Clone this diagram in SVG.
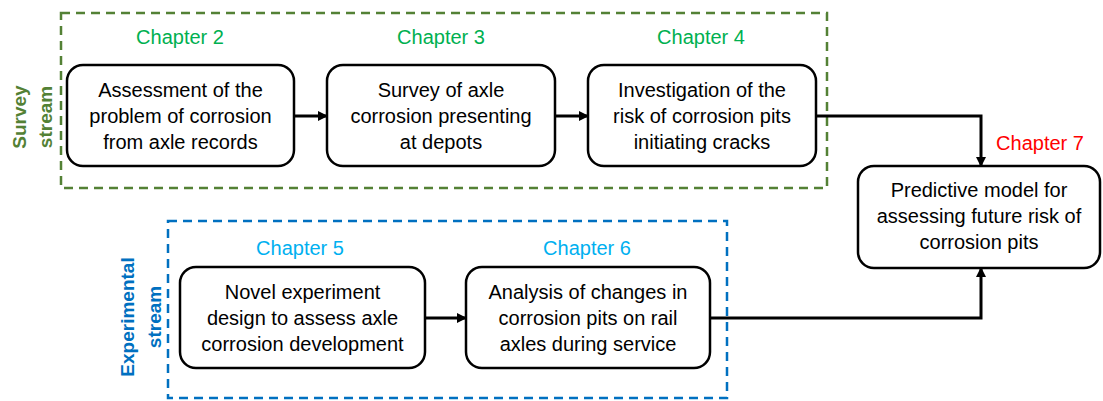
<svg xmlns="http://www.w3.org/2000/svg" width="1103" height="401" viewBox="0 0 1103 401">
  <defs>
    <marker id="arrow" viewBox="0 0 10 10" refX="9" refY="5" markerWidth="10" markerHeight="10" markerUnits="userSpaceOnUse" orient="auto">
      <path d="M0,0 L10,5 L0,10 Z" fill="#000"/>
    </marker>
    <style>
      text { font-family: "Liberation Sans", Arial, sans-serif; }
      .box { fill: #fff; stroke: #000; stroke-width: 2.5; }
      .body { font-size: 20px; fill: #000; text-anchor: middle; }
      .chap { font-size: 20px; text-anchor: middle; }
      .stream { font-size: 19px; font-weight: bold; text-anchor: middle; }
      .frame { fill: none; stroke-width: 2.5; stroke-dasharray: 9 6; }
      .conn { fill: none; stroke: #000; stroke-width: 3; }
    </style>
  </defs>
  <rect width="1103" height="401" fill="#fff"/>

  <!-- stream frames -->
  <g id="survey-stream">
    <rect class="frame" x="61" y="13" width="766" height="175" stroke="#538135"/>
    <text class="stream" fill="#538135" transform="translate(26,117) rotate(-90)">Survey</text>
    <text class="stream" fill="#538135" transform="translate(52,117) rotate(-90)">stream</text>
  </g>
  <g id="experimental-stream">
    <rect class="frame" x="168" y="221" width="559" height="177" stroke="#0070C0"/>
    <text class="stream" fill="#0070C0" transform="translate(134,317) rotate(-90)">Experimental</text>
    <text class="stream" fill="#0070C0" transform="translate(161,317) rotate(-90)">stream</text>
  </g>

  <!-- connectors -->
  <g id="connectors">
    <path class="conn" d="M294,116 H327" marker-end="url(#arrow)"/>
    <path class="conn" d="M555,116 H588" marker-end="url(#arrow)"/>
    <path class="conn" d="M816,116 H981 V166" marker-end="url(#arrow)"/>
    <path class="conn" d="M425,318 H466" marker-end="url(#arrow)"/>
    <path class="conn" d="M710,318 H981 V268" marker-end="url(#arrow)"/>
  </g>

  <!-- chapter nodes -->
  <g id="ch2">
    <text class="chap" x="180" y="44" fill="#00B050">Chapter 2</text>
    <rect class="box" x="67" y="65" width="227" height="101" rx="16"/>
    <text class="body" x="180.5" y="97">Assessment of the</text>
    <text class="body" x="180.5" y="123">problem of corrosion</text>
    <text class="body" x="180.5" y="149">from axle records</text>
  </g>
  <g id="ch3">
    <text class="chap" x="441" y="44" fill="#00B050">Chapter 3</text>
    <rect class="box" x="327" y="65" width="228" height="101" rx="16"/>
    <text class="body" x="441" y="97">Survey of axle</text>
    <text class="body" x="441" y="123">corrosion presenting</text>
    <text class="body" x="441" y="149">at depots</text>
  </g>
  <g id="ch4">
    <text class="chap" x="701" y="44" fill="#00B050">Chapter 4</text>
    <rect class="box" x="588" y="65" width="228" height="101" rx="16"/>
    <text class="body" x="702" y="97">Investigation of the</text>
    <text class="body" x="702" y="123">risk of corrosion pits</text>
    <text class="body" x="702" y="149">initiating cracks</text>
  </g>
  <g id="ch5">
    <text class="chap" x="300" y="255" fill="#00B0F0">Chapter 5</text>
    <rect class="box" x="180" y="267" width="245" height="101" rx="16"/>
    <text class="body" x="302.5" y="299">Novel experiment</text>
    <text class="body" x="302.5" y="325">design to assess axle</text>
    <text class="body" x="302.5" y="351">corrosion development</text>
  </g>
  <g id="ch6">
    <text class="chap" x="587" y="255" fill="#00B0F0">Chapter 6</text>
    <rect class="box" x="466" y="267" width="244" height="101" rx="16"/>
    <text class="body" x="588" y="299">Analysis of changes in</text>
    <text class="body" x="588" y="325">corrosion pits on rail</text>
    <text class="body" x="588" y="351">axles during service</text>
  </g>
  <g id="ch7">
    <text class="chap" x="1040" y="150" fill="#FF0000">Chapter 7</text>
    <rect class="box" x="858" y="166" width="242" height="102" rx="16"/>
    <text class="body" x="979" y="197">Predictive model for</text>
    <text class="body" x="979" y="223">assessing future risk of</text>
    <text class="body" x="979" y="249">corrosion pits</text>
  </g>
</svg>
